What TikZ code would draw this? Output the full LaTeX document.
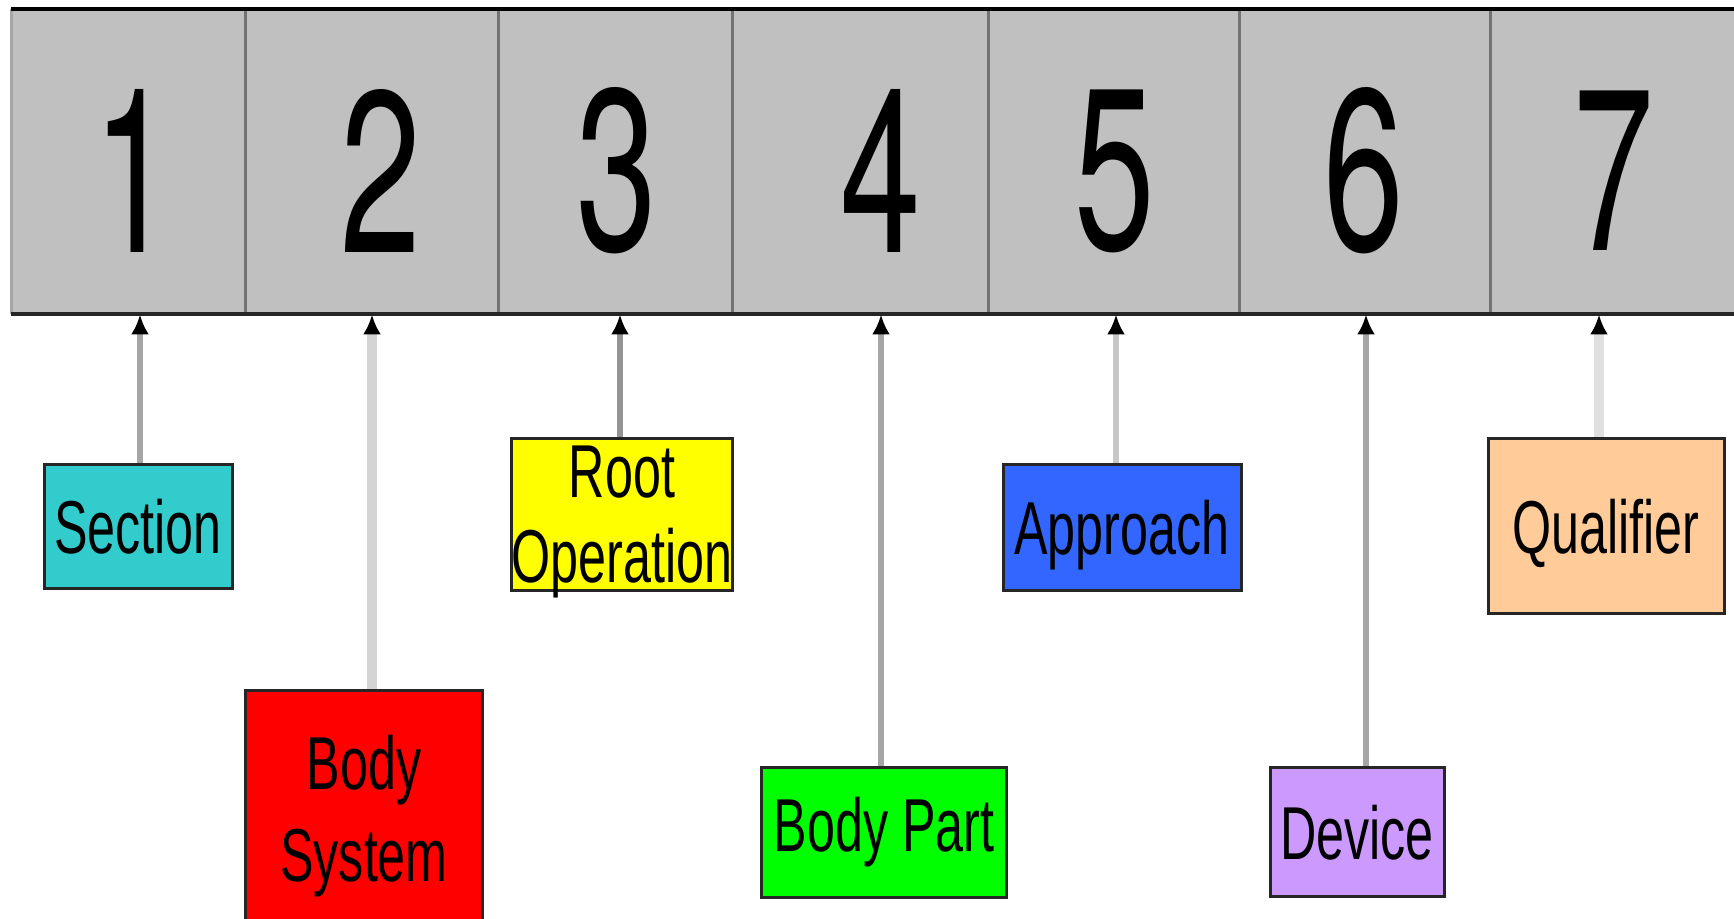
\documentclass[tikz,border=0pt]{standalone}
\usepackage{fontspec}
\setmainfont{Liberation Sans}
\newfontfamily\digitfont{TeX Gyre Heros}[FakeStretch=0.63]
\newfontfamily\labelfont{Liberation Sans}[FakeStretch=0.67]
\usetikzlibrary{arrows.meta}

\definecolor{barGray}{HTML}{C0C0C0}
\definecolor{secCol}{HTML}{33CCCC}
\definecolor{sysCol}{HTML}{FF0000}
\definecolor{opCol}{HTML}{FFFF00}
\definecolor{partCol}{HTML}{00FF00}
\definecolor{appCol}{HTML}{3366FF}
\definecolor{devCol}{HTML}{CC99FF}
\definecolor{qualCol}{HTML}{FFCC99}

\tikzset{
  digit/.style={inner sep=0pt, font=\digitfont\fontsize{230}{230}\selectfont},
  field/.style={draw=black!85, line width=3pt, inner sep=0pt, align=center,
    text depth=0pt, font=\labelfont\fontsize{75}{85}\selectfont},
  link/.style={line width=6pt, draw=black!35,
    -{Latex[length=20pt,width=18pt,color=black]}},
}

\begin{document}
\begin{tikzpicture}[x=1pt,y=-1pt]
    \useasboundingbox (0,0) rectangle (1734,918);
    % the seven character positions
    \node[fill=barGray, inner sep=0pt, minimum width=1740pt, minimum height=305pt,
          anchor=north west] (bar) at (11,9) {};
    \foreach \x in {245,498,732,988,1239,1490}
        \draw[black!55, line width=3pt] (bar.north -| \x,0) -- (bar.south -| \x,0);
    \draw[black!35, line width=3pt] (bar.north west) -- (bar.south west);
    \draw[black, line width=3.5pt] (bar.north west) -- (bar.north east);
    \draw[black!85, line width=4pt] (bar.south west) -- (bar.south east);
    \foreach \d/\x in {1/134, 2/381, 3/617, 4/881, 5/1115, 6/1364, 7/1614}
        \node[digit] (d\d) at (\x,171) {\d};

    % what each position means
    \node[field, fill=secCol,  minimum width=188pt, minimum height=124pt] (section)  at (138,526)  {Section};
    \node[field, fill=sysCol,  minimum width=237pt, minimum height=236pt,
          font=\labelfont\fontsize{75}{92}\selectfont] (bodysys) at (364,808) {Body\\System};
    \node[field, fill=opCol,   minimum width=220pt, minimum height=152pt] (rootop)   at (622,514)  {Root\\Operation};
    \node[field, fill=partCol, minimum width=245pt, minimum height=130pt, text depth=16pt] (bodypart) at (884,832) {Body Part};
    \node[field, fill=appCol,  minimum width=238pt, minimum height=126pt] (approach) at (1122,527) {Approach};
    \node[field, fill=devCol,  minimum width=174pt, minimum height=129pt] (device)   at (1357,832) {Device};
    \node[field, fill=qualCol, minimum width=236pt, minimum height=175pt] (qualifier) at (1606,526) {Qualifier};

    \draw[link] ([xshift=2pt]section.north) -- ([xshift=2pt]section.north |- bar.south);
    \draw[link, draw=black!17, line width=10pt] ([xshift=8pt]bodysys.north) -- ([xshift=8pt]bodysys.north |- bar.south);
    \draw[link, draw=black!42] ([xshift=-2pt]rootop.north) -- ([xshift=-2pt]rootop.north |- bar.south);
    \draw[link] ([xshift=-3pt]bodypart.north) -- ([xshift=-3pt]bodypart.north |- bar.south);
    \draw[link, draw=black!22] ([xshift=-6pt]approach.north) -- ([xshift=-6pt]approach.north |- bar.south);
    \draw[link] ([xshift=9pt]device.north) -- ([xshift=9pt]device.north |- bar.south);
    \draw[link, draw=black!12, line width=10pt] ([xshift=-7pt]qualifier.north) -- ([xshift=-7pt]qualifier.north |- bar.south);
\end{tikzpicture}
\end{document}
